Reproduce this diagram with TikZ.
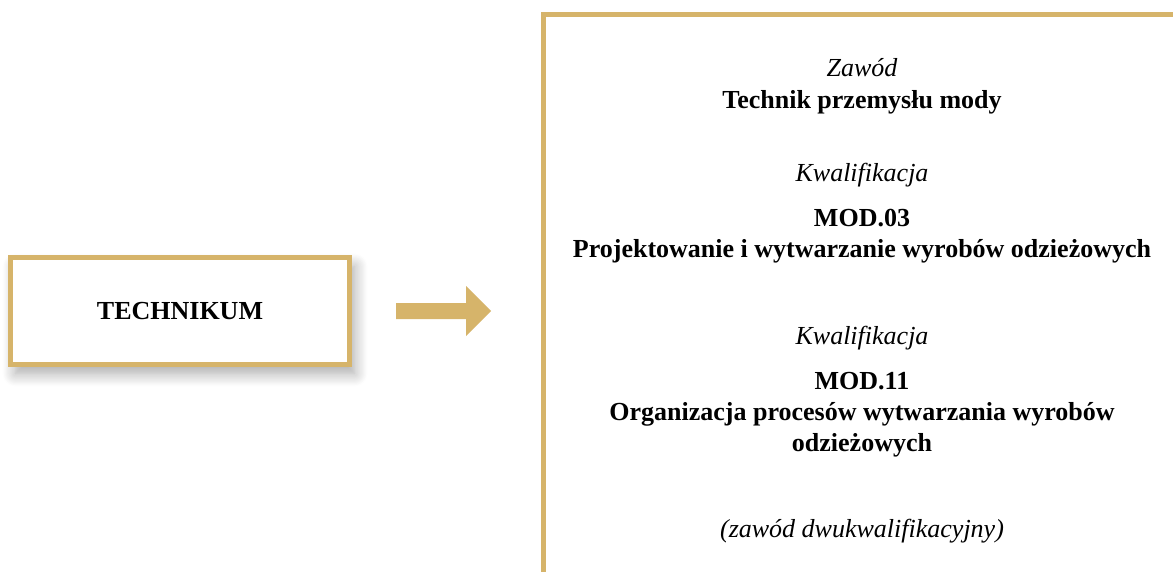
\documentclass[tikz,border=0pt]{standalone}
\usepackage{fontspec}
\setmainfont{Liberation Serif}
\usetikzlibrary{shadows.blur}
\definecolor{gold}{RGB}{214,180,106}
\tikzset{
  frame/.style={draw=gold,line width=5pt},
  schoolbox/.style={frame,fill=white,minimum width=339pt,minimum height=107pt,
    blur shadow={shadow xshift=5pt,shadow yshift=-9pt,shadow blur radius=13pt,
      shadow blur steps=12,shadow opacity=35}},
  label/.style={font=\fontsize{26}{31}\selectfont\itshape,inner sep=0pt,align=center},
  title/.style={font=\fontsize{26}{31}\selectfont\bfseries,inner sep=0pt,align=center}
}
\begin{document}
\begin{tikzpicture}[x=1pt,y=-1pt]
  \useasboundingbox (0,0) rectangle (1173,572);
  % left side
  \node[schoolbox,title] (school) at (180,311) {TECHNIKUM};
  \fill[gold] (396,303) -- (466,303) -- (466,286) -- (491,311)
    -- (466,336) -- (466,319) -- (396,319) -- cycle;
  % right side
  \draw[frame] (543.5,572) |- (1173,14.5);
  \node[label,anchor=base] (job) at (862,77) {Zawód};
  \node[title,anchor=base] (jobname) at (862,109) {Technik przemysłu mody};
  \node[label,anchor=base] (qual1) at (862,182) {Kwalifikacja};
  \node[title,anchor=base] (mod03) at (862,258) {MOD.03\\Projektowanie i wytwarzanie wyrobów odzieżowych};
  \node[label,anchor=base] (qual2) at (862,344) {Kwalifikacja};
  \node[title,anchor=base] (mod11) at (862,451) {MOD.11\\Organizacja procesów wytwarzania wyrobów\\odzieżowych};
  \node[label,anchor=base] (note) at (862,537) {(zawód dwukwalifikacyjny)};
\end{tikzpicture}
\end{document}
